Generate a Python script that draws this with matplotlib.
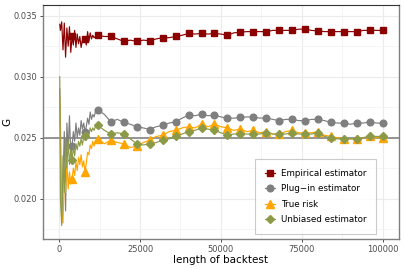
#!/usr/bin/env python3
"""Risk estimators vs. length of backtest."""

import matplotlib

matplotlib.use("Agg")
import matplotlib.pyplot as plt
import numpy as np

# x positions: fine early part, coarser later part
x_early = [200, 400, 800, 1200, 1600, 2000, 2400, 2800, 3200, 3600, 4000,
           4400, 4800, 5200, 5600, 6000, 6400, 6800, 7200, 7600, 8000,
           8400, 8800, 9200, 9600, 10000, 10400, 10800, 11200, 11600, 12000]
x_late = [14000, 16000, 18000, 20000, 22000, 24000, 26000, 28000, 30000,
          32000, 34000, 36000, 38000, 40000, 42000, 44000, 46000, 48000,
          50000, 52000, 54000, 56000, 58000, 60000, 62000, 64000, 66000,
          68000, 70000, 72000, 74000, 76000, 78000, 80000, 82000, 84000,
          86000, 88000, 90000, 92000, 94000, 96000, 98000, 100000]

empirical = [0.0343, 0.0338, 0.0345, 0.0322, 0.0344, 0.0316, 0.0340, 0.0325,
             0.0341, 0.0320, 0.0333, 0.0326, 0.0338, 0.0324, 0.0335, 0.0327,
             0.0333, 0.0324, 0.0330, 0.0328, 0.0331, 0.0326, 0.0337, 0.0329,
             0.0336, 0.0331, 0.0334, 0.0332, 0.0333, 0.0332, 0.0334,
             0.0333, 0.0333, 0.0331, 0.0329, 0.0330, 0.0329, 0.0330, 0.03295,
             0.0331, 0.0332, 0.0332, 0.0333, 0.0334, 0.03355, 0.0335, 0.03355,
             0.0335, 0.03355, 0.0335, 0.0334, 0.0336, 0.03365, 0.0337, 0.0337,
             0.0337, 0.0337, 0.0338, 0.0338, 0.0338, 0.0338, 0.0339, 0.0339,
             0.0338, 0.03375, 0.0337, 0.0337, 0.0337, 0.0337, 0.0337, 0.0337,
             0.0338, 0.0338, 0.0338, 0.0338]

plug_in = [0.0290, 0.0262, 0.0180, 0.0215, 0.0255, 0.0190, 0.0262, 0.0240,
           0.0268, 0.0235, 0.0243, 0.0255, 0.0247, 0.0262, 0.0250, 0.0258,
           0.0252, 0.0264, 0.0257, 0.0262, 0.0255, 0.0259, 0.0266, 0.0261,
           0.0271, 0.0265, 0.0269, 0.0267, 0.0271, 0.0270, 0.0273,
           0.0269, 0.0263, 0.0265, 0.02625, 0.0261, 0.0259, 0.0258, 0.02567,
           0.0259, 0.0260, 0.0262, 0.0263, 0.0266, 0.02685, 0.0268, 0.02693,
           0.0268, 0.02685, 0.0267, 0.0266, 0.0266, 0.02666, 0.0267, 0.02671,
           0.0266, 0.02663, 0.0265, 0.0264, 0.0265, 0.0265, 0.0264, 0.0264,
           0.0265, 0.0265, 0.0264, 0.02625, 0.0262, 0.0262, 0.0261, 0.0262,
           0.0262, 0.0263, 0.0262, 0.0262]

true_risk = [0.0283, 0.0240, 0.0190, 0.0180, 0.0215, 0.0205, 0.0230, 0.0208,
             0.0222, 0.0212, 0.0216, 0.0225, 0.0219, 0.0230, 0.0223, 0.0234,
             0.0228, 0.0236, 0.0226, 0.0231, 0.0222, 0.0229, 0.0238, 0.0236,
             0.0244, 0.0241, 0.0247, 0.0243, 0.0248, 0.0246, 0.0249,
             0.0245, 0.0248, 0.0246, 0.0245, 0.0242, 0.0243, 0.0246, 0.0248,
             0.0251, 0.0252, 0.0255, 0.0256, 0.0258, 0.0259, 0.0258, 0.0261,
             0.0259, 0.0261, 0.0259, 0.0258, 0.0256, 0.0257, 0.0255, 0.0256,
             0.0254, 0.0255, 0.0253, 0.0253, 0.0255, 0.0256, 0.0254, 0.0254,
             0.0254, 0.0255, 0.0252, 0.0251, 0.0250, 0.0249, 0.0249, 0.0249,
             0.0250, 0.0251, 0.0250, 0.0250]

unbiased = [0.0300, 0.0200, 0.0178, 0.0235, 0.0205, 0.0250, 0.0225, 0.0248,
            0.0228, 0.0240, 0.0232, 0.0242, 0.0235, 0.0245, 0.0240, 0.0247,
            0.0243, 0.0249, 0.0244, 0.0251, 0.0251, 0.0248, 0.0254, 0.0252,
            0.0258, 0.0255, 0.0258, 0.0256, 0.0259, 0.0258, 0.0260,
            0.0256, 0.0253, 0.0254, 0.0253, 0.0249, 0.0245, 0.0244, 0.0245,
            0.0246, 0.0248, 0.0249, 0.0251, 0.0253, 0.0255, 0.0256, 0.0258,
            0.0257, 0.0256, 0.0254, 0.0252, 0.0253, 0.0253, 0.0253, 0.0253,
            0.0253, 0.0254, 0.0253, 0.0253, 0.0253, 0.0254, 0.0253, 0.0253,
            0.0253, 0.0254, 0.0251, 0.0250, 0.0249, 0.0249, 0.0249, 0.0249,
            0.0250, 0.0251, 0.0251, 0.0251]

labels = ["Empirical estimator", "Plug\u2212in estimator", "True risk",
          "Unbiased estimator"]
colors = ["#8B0000", "#7F7F7F", "#FFA500", "#8C9A48"]
markers = ["s", "o", "^", "D"]
sizes = [4.8, 4.8, 5.4, 4.2]

x_all = np.array(x_early + x_late)
marker_mask = x_all % 4000 == 0

fig = plt.figure(figsize=(4.05, 2.7), dpi=100)
ax = fig.add_axes([0.106, 0.114, 0.879, 0.866])

ax.axhline(0.025, color="#8c8c8c", linewidth=1.3, zorder=1)
for series, label, color, marker, ms in zip(
        [empirical, plug_in, true_risk, unbiased], labels, colors, markers, sizes):
    ax.plot(x_all, series, color=color, linewidth=0.85, marker=marker,
            markersize=ms, markevery=list(marker_mask), label=label, zorder=3)

ax.set_xlim(-5000, 105000)
ax.set_ylim(0.01667, 0.03585)
ax.set_xticks([0, 25000, 50000, 75000, 100000])
ax.set_xticklabels(["0", "25000", "50000", "75000", "100000"])
ax.set_yticks([0.020, 0.025, 0.030, 0.035])
ax.set_yticklabels(["0.020", "0.025", "0.030", "0.035"])
ax.set_xticks([12500, 37500, 62500, 87500], minor=True)
ax.set_yticks([0.0175, 0.0225, 0.0275, 0.0325], minor=True)
ax.grid(which="major", color="#EBEBEB", linewidth=0.8, zorder=0)
ax.grid(which="minor", color="#F2F2F2", linewidth=0.5, zorder=0)
ax.set_axisbelow(True)
ax.tick_params(which="major", labelsize=6, colors="#4D4D4D", length=2.5,
               width=0.7, pad=1.5)
ax.tick_params(which="minor", length=0)
ax.set_xlabel("length of backtest", fontsize=7.5, labelpad=1)
ax.set_ylabel("G", fontsize=7.5)
ax.yaxis.set_label_coords(-0.085, 0.5)
for side in ["left", "bottom", "right"]:
    ax.spines[side].set_color("#7F7F7F")
    ax.spines[side].set_linewidth(1.0)
ax.spines["top"].set_color("#333333")
ax.spines["top"].set_linewidth(0.8)

leg = ax.legend(loc="lower right", bbox_to_anchor=(0.937, 0.022), fontsize=6.3,
                frameon=True, fancybox=False, borderpad=1.1, labelspacing=0.75,
                handlelength=1.2, handletextpad=0.7, markerscale=1.0,
                borderaxespad=0)
leg.get_frame().set_edgecolor("#BEBEBE")
leg.get_frame().set_linewidth(0.8)

fig.savefig("out.png", dpi=100)
